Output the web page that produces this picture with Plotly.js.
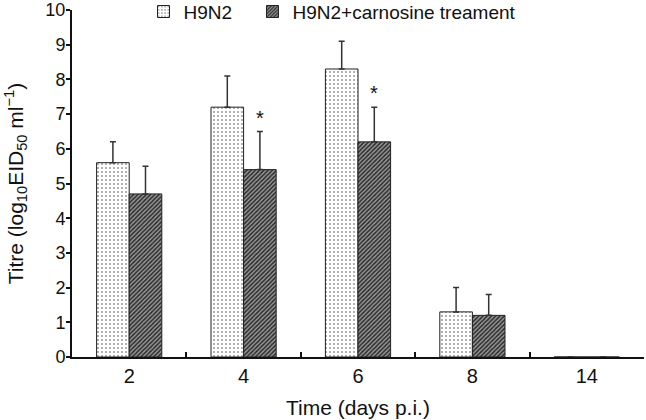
<!DOCTYPE html>
<html>
<head>
<meta charset="utf-8">
<script src="https://cdn.plot.ly/plotly-3.0.1.min.js"></script>
<style>
  body { margin: 0; background: #fff; }
  #graph { width: 646px; height: 420px; }
</style>
</head>
<body>
<div id="graph"></div>
<script>
  // values
  const days = ['2', '4', '6', '8', '14'];
  const virusTitre = [5.6, 7.2, 8.3, 1.3, 0];
  const virusErr = [0.6, 0.9, 0.8, 0.7, 0];
  const carnosineTitre = [4.7, 5.4, 6.2, 1.2, 0];
  const carnosineErr = [0.8, 1.1, 1.0, 0.6, 0];
  const starDays = ['4', '6'];

  function plotChart() {
    const font = 'Liberation Sans, Arial, sans-serif';

    const virus = {
      x: days,
      y: virusTitre,
      name: 'H9N2',
      type: 'bar',
      legendwidth: 64,
      marker: {
        color: 'white',
        line: { color: '#222', width: 1 },
        pattern: { shape: '.', fgcolor: '#999', bgcolor: 'white', size: 4, solidity: 0.2 }
      },
      error_y: { type: 'data', array: virusErr, symmetric: false, arrayminus: days.map(() => 0), color: '#333', thickness: 1.5, width: 3 }
    };

    const carnosine = {
      x: days,
      y: carnosineTitre,
      name: 'H9N2+carnosine treament',
      type: 'bar',
      legendwidth: 270,
      marker: {
        color: '#777',
        line: { color: '#222', width: 1 },
        pattern: { shape: '/', fgcolor: '#2a2a2a', bgcolor: '#999', size: 3, solidity: 0.5 }
      },
      error_y: { type: 'data', array: carnosineErr, symmetric: false, arrayminus: days.map(() => 0), color: '#333', thickness: 1.5, width: 3 }
    };

    // asterisks above the treated bars (category axis -> use the index)
    const stars = starDays.map(d => {
      const i = days.indexOf(d);
      return {
        x: i,
        y: carnosineTitre[i] + carnosineErr[i] + 0.4,
        text: '*',
        showarrow: false,
        xshift: 16,
        font: { family: font, size: 20, color: '#111' }
      };
    });

    const layout = {
      width: 646,
      height: 420,
      margin: { l: 72, r: 2, t: 10, b: 63, autoexpand: false },
      paper_bgcolor: 'white',
      plot_bgcolor: 'white',
      font: { family: font, size: 18, color: '#111' },
      barmode: 'group',
      bargap: 0.43,
      bargroupgap: 0,
      showlegend: true,
      legend: {
        orientation: 'h',
        x: 0.125,
        xanchor: 'left',
        y: 1.05,
        yanchor: 'top',
        bgcolor: 'rgba(0,0,0,0)',
        font: { family: font, size: 19 },
        itemwidth: 30,
        tracegroupgap: 0
      },
      xaxis: {
        type: 'category',
        range: [-0.5, 4.5],
        autorange: false,
        title: { text: 'Time (days p.i.)', font: { size: 21 }, standoff: 14 },
        tickfont: { size: 20 },
        showline: true,
        linecolor: '#111',
        linewidth: 2,
        ticks: 'inside',
        tickson: 'boundaries',
        ticklen: 5,
        tickwidth: 1.5,
        tickcolor: '#111',
        showgrid: false,
        zeroline: false
      },
      yaxis: {
        title: { text: 'Titre (log<sub>10</sub>EID<sub>50</sub> ml<sup>−1</sup>)', font: { size: 21 }, standoff: 16 },
        range: [0, 10],
        dtick: 1,
        tickfont: { size: 18 },
        ticklabeloverflow: 'allow',
        ticklabelstandoff: -3,
        showline: true,
        linecolor: '#111',
        linewidth: 2,
        ticks: 'outside',
        ticklen: 4,
        tickwidth: 1.5,
        tickcolor: '#111',
        showgrid: false,
        zeroline: false
      },
      annotations: stars
    };

    Plotly.newPlot('graph', [virus, carnosine], layout, { displayModeBar: false });
  }

  plotChart();
</script>
</body>
</html>
